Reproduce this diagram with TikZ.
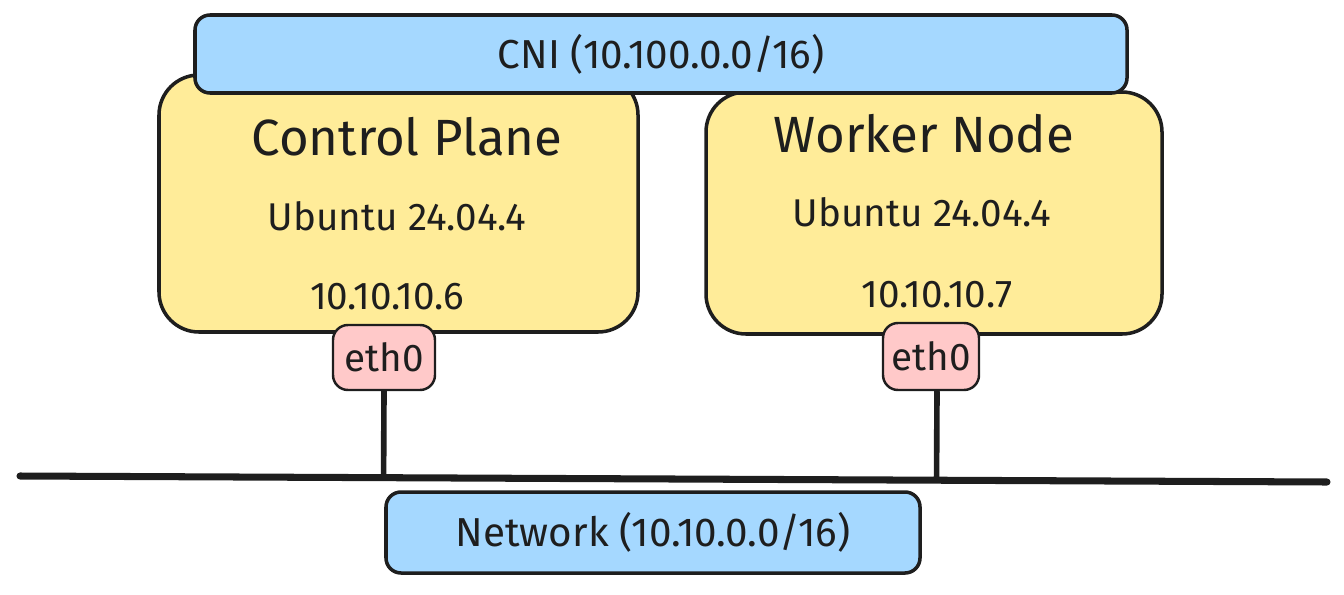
\documentclass[tikz,border=0pt]{standalone}
\usepackage{fontspec}
\setmainfont{Fira Sans}
\usepackage{tikz}
\usetikzlibrary{positioning}
\usetikzlibrary{calc}
\definecolor{cniblue}{HTML}{A5D8FF}
\definecolor{hostyellow}{HTML}{FFEC99}
\definecolor{ethpink}{HTML}{FFC9C9}
\definecolor{inkgray}{HTML}{1E1E1E}
\tikzset{net box/.style={rectangle,rounded corners=0.3cm,fill=cniblue,draw=inkgray,line width=2pt,text=inkgray,font=\fontsize{23}{26}\selectfont},
host box/.style={rectangle,rounded corners=0.8cm,fill=hostyellow,draw=inkgray,line width=2pt},
eth box/.style={rectangle,rounded corners=0.3cm,fill=ethpink,draw=inkgray,line width=1.4pt,text=inkgray,font=\fontsize{22}{24}\selectfont,inner sep=0pt},
host title/.style={text=inkgray,font=\fontsize{29}{34}\selectfont},
host info/.style={text=inkgray,font=\fontsize{22}{25}\selectfont},}

\begin{document}
\begin{tikzpicture}[line width=2pt,draw=inkgray]
    \useasboundingbox (0,0) rectangle (26.88,11.88);

    % hosts
    \node[host box,minimum width=9.58cm,minimum height=5.14cm] (cp) at (7.97,7.81) {};
    \node[host box,minimum width=9.12cm,minimum height=4.84cm] (wn) at (18.68,7.62) {};
    \node[host title] (cptitle) at (8.14,9.14) {Control Plane};
    \node[host info] (cpos) at (7.94,7.56) {Ubuntu 24.04.4};
    \node[host info] (cpip) at (7.74,5.94) {10.10.10.6};
    \node[host title] (wntitle) at (18.48,9.2) {Worker Node};
    \node[host info] (wnos) at (18.44,7.64) {Ubuntu 24.04.4};
    \node[host info] (wnip) at (18.74,5.98) {10.10.10.7};

    % overlay network
    \node[net box,minimum width=18.64cm,minimum height=1.56cm] (cni) at (13.22,10.8) {CNI (10.100.0.0/16)};

    % interfaces
    \node[eth box,minimum width=2.04cm,minimum height=1.3cm] (cpeth) at (7.68,4.73) {eth0};
    \node[eth box,minimum width=1.92cm,minimum height=1.34cm] (wneth) at (18.62,4.75) {eth0};

    % physical network
    \coordinate (lanL) at (0.4,2.36);
    \coordinate (lanR) at (26.54,2.24);
    \draw[line width=4pt,line cap=round] (lanL) -- (lanR);
    \draw[line width=3.2pt] (cpeth.south) -- ($(lanL)!(cpeth.south)!(lanR)$);
    \draw[line width=3.2pt] ([xshift=0.12cm]wneth.south) -- ($(lanL)!([xshift=0.12cm]wneth.south)!(lanR)$);
    \node[net box,minimum width=10.68cm,minimum height=1.62cm] (lan) at (13.06,1.23) {Network (10.10.0.0/16)};
\end{tikzpicture}
\end{document}
